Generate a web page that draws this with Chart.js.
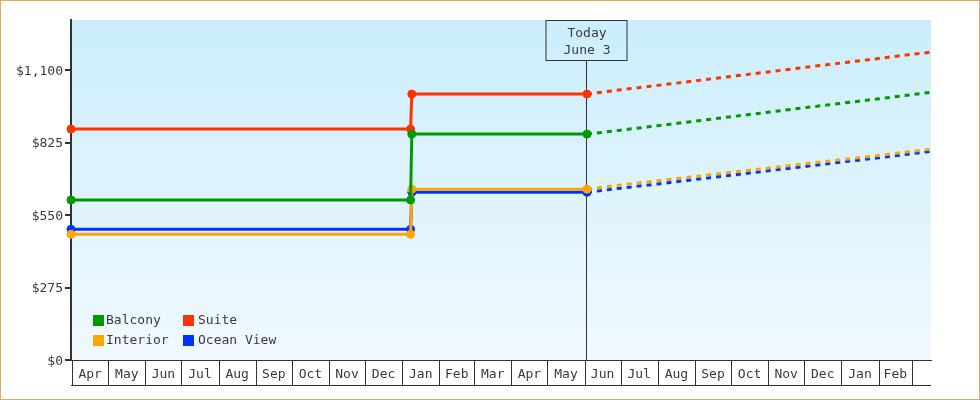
<!DOCTYPE html>
<html>
<head>
<meta charset="utf-8">
<script src="https://cdn.jsdelivr.net/npm/chart.js@4/dist/chart.umd.min.js"></script>
<style>
  html, body { margin: 0; padding: 0; background: #fff; }
  canvas { display: block; }
</style>
</head>
<body>
<canvas id="chart" width="980" height="400"></canvas>
<script>
"use strict";

// price points: the first four are history, the rest is the forecast
var dates = [
    '2023-03-31', '2024-01-08', '2024-01-09', '2024-06-03',
    '2024-07-01', '2024-08-01', '2024-09-01', '2024-10-01', '2024-11-01',
    '2024-12-01', '2025-01-01', '2025-02-01', '2025-03-01', '2025-03-17'
];
var historyCount = 4;

var balcony   = [607, 607, 857, 857, 872, 889, 906, 923, 940, 957, 974, 991, 1007, 1016];
var suite     = [876, 876, 1009, 1009, 1025, 1042, 1059, 1076, 1093, 1110, 1127, 1144, 1160, 1168];
var interior  = [477, 477, 648, 648, 664, 680, 696, 712, 728, 744, 760, 776, 792, 800];
var oceanView = [496, 496, 636, 636, 652, 668, 685, 701, 718, 734, 751, 767, 783, 792];

var monthLabels = ['Apr', 'May', 'Jun', 'Jul', 'Aug', 'Sep', 'Oct', 'Nov', 'Dec', 'Jan', 'Feb', 'Mar',
                   'Apr', 'May', 'Jun', 'Jul', 'Aug', 'Sep', 'Oct', 'Nov', 'Dec', 'Jan', 'Feb'];
var monthStarts = ['2023-04-01', '2023-05-01', '2023-06-01', '2023-07-01', '2023-08-01', '2023-09-01',
                   '2023-10-01', '2023-11-01', '2023-12-01', '2024-01-01', '2024-02-01', '2024-03-01',
                   '2024-04-01', '2024-05-01', '2024-06-01', '2024-07-01', '2024-08-01', '2024-09-01',
                   '2024-10-01', '2024-11-01', '2024-12-01', '2025-01-01', '2025-02-01', '2025-03-01'];
var yTicks = [0, 275, 550, 825, 1100];

var today = '2024-06-03';
var todayText = ['Today', 'June 3'];

var FONT = '"DejaVu Sans Mono", monospace';
var INK = '#333';
var TEXT = '#3a3a3a';

// days since 1 Apr 2023
function day(s) {
    var p = s.split('-');
    return (Date.UTC(+p[0], p[1] - 1, +p[2]) - Date.UTC(2023, 3, 1)) / 86400000;
}

function series(label, values, color) {
    return {
        label: label,
        data: dates.map(function (d, i) { return {x: day(d), y: values[i]}; }),
        borderColor: color,
        backgroundColor: color,
        borderWidth: 3,
        pointRadius: function (c) { return c.dataIndex < historyCount ? 4 : 0; },
        pointBorderWidth: 1,
        pointHoverRadius: 4,
        tension: 0,
        clip: false,
        segment: {
            borderDash: function (c) { return c.p0DataIndex >= historyCount - 1 ? [5, 5] : undefined; }
        }
    };
}

var decorations = {
    id: 'decorations',
    beforeDraw: function (chart) {
        var c = chart.ctx, a = chart.chartArea;
        c.save();
        c.fillStyle = '#fff';
        c.fillRect(0, 0, chart.width, chart.height);
        var g = c.createLinearGradient(0, a.top, 0, a.bottom);
        g.addColorStop(0, '#cbeefc');
        g.addColorStop(1, '#f1f9fe');
        c.fillStyle = g;
        c.fillRect(a.left, a.top, a.right - a.left, a.bottom - a.top);
        c.restore();
    },
    beforeDatasetsDraw: function (chart) {
        var c = chart.ctx, a = chart.chartArea;
        var x = Math.round(chart.scales.x.getPixelForValue(day(today))) - 0.5;
        c.save();
        c.strokeStyle = INK;
        c.lineWidth = 1;
        c.beginPath();
        c.moveTo(x, a.top + 40);
        c.lineTo(x, a.bottom);
        c.stroke();
        c.strokeRect(x - 40.5, a.top + 0.5, 81, 40);
        c.fillStyle = TEXT;
        c.font = '13px ' + FONT;
        c.textAlign = 'center';
        c.textBaseline = 'middle';
        c.fillText(todayText[0], x + 0.5, a.top + 13.5);
        c.fillText(todayText[1], x + 0.5, a.top + 31);
        c.restore();
    },
    afterDraw: function (chart) {
        var c = chart.ctx, a = chart.chartArea, xs = chart.scales.x;
        c.save();
        // month boxes under the plot
        c.strokeStyle = INK;
        c.lineWidth = 1;
        c.beginPath();
        monthStarts.forEach(function (m) {
            var px = Math.round(xs.getPixelForValue(day(m))) + 0.5;
            c.moveTo(px, a.bottom);
            c.lineTo(px, a.bottom + 25);
        });
        c.moveTo(a.left, a.bottom + 25.5);
        c.lineTo(a.right, a.bottom + 25.5);
        c.stroke();

        // legend inside the plot, bottom left
        c.font = '13px ' + FONT;
        c.textBaseline = 'middle';
        c.textAlign = 'left';
        chart.data.datasets.forEach(function (ds, i) {
            var col = i % 2, row = Math.floor(i / 2);
            var bx = a.left + 22 + col * 90;
            var by = a.bottom - 39.5 + row * 20;
            c.fillStyle = ds.borderColor;
            c.fillRect(bx, by - 5.5, 11, 11);
            c.fillStyle = TEXT;
            c.fillText(ds.label, bx + 13 + col * 2, by + 0.5);
        });

        // outer frame
        c.strokeStyle = '#e9a862';
        c.strokeRect(0.5, 0.5, chart.width - 1, chart.height - 1);
        c.restore();
    }
};

var ctx = document.getElementById('chart').getContext('2d');

var myChart = new Chart(ctx, {
    type: 'line',
    data: {
        datasets: [
            series('Balcony', balcony, '#009900'),
            series('Suite', suite, '#ff3300'),
            series('Interior', interior, '#ffa500'),
            series('Ocean View', oceanView, '#0033ff')
        ]
    },
    plugins: [decorations],
    options: {
        responsive: false,
        animation: false,
        devicePixelRatio: 1,
        layout: {padding: {left: 0, right: 49, top: 20, bottom: 0}},
        plugins: {
            legend: {display: false},
            tooltip: {enabled: false}
        },
        scales: {
            x: {
                type: 'linear',
                min: -1,
                max: 715.7,
                afterBuildTicks: function (scale) {
                    scale.ticks = monthLabels.map(function (m, i) {
                        return {value: (day(monthStarts[i]) + day(monthStarts[i + 1])) / 2};
                    });
                },
                afterFit: function (scale) { scale.height = 40; },
                grid: {display: false, drawTicks: false},
                border: {display: true, color: INK, width: 1},
                ticks: {
                    autoSkip: false,
                    maxRotation: 0,
                    minRotation: 0,
                    padding: 7,
                    color: TEXT,
                    font: {family: FONT, size: 13},
                    callback: function (v, i) { return monthLabels[i]; }
                }
            },
            y: {
                min: 0,
                max: 1290,
                afterBuildTicks: function (scale) {
                    scale.ticks = yTicks.map(function (v) { return {value: v}; });
                },
                afterFit: function (scale) { scale.width = 71; },
                grid: {drawOnChartArea: false, drawTicks: true, tickLength: 6, lineWidth: 2, color: INK},
                border: {display: true, color: INK, width: 2},
                ticks: {
                    padding: 2,
                    labelOffset: 1.5,
                    color: TEXT,
                    font: {family: FONT, size: 13},
                    callback: function (v) { return '$' + v.toLocaleString('en-US'); }
                }
            }
        }
    }
});
</script>
</body>
</html>
